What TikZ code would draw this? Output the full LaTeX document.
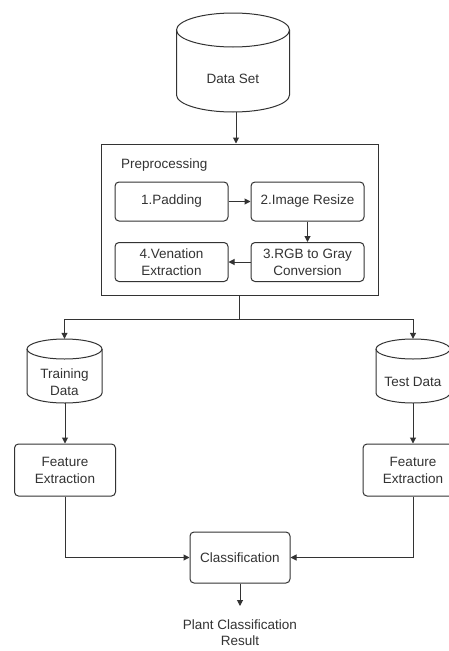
\documentclass[tikz,border=0pt]{standalone}
\usepackage{fontspec}
\setmainfont{Liberation Sans}
\usetikzlibrary{arrows.meta}
\definecolor{ln}{HTML}{333333}
\tikzset{
  x=1pt, y=1pt,
  every node/.style={font=\fontsize{13.5}{17}\selectfont, text=ln, align=center, inner sep=0pt},
  stepbox/.style={draw=ln, line width=1pt, rounded corners=4pt},
  cylline/.style={draw=ln, line width=1pt},
  conn/.style={draw=ln, line width=1pt},
  arr/.style={conn, -{Triangle[length=6pt,width=6pt]}},
}
\begin{document}
\begin{tikzpicture}
\useasboundingbox (0,0) rectangle (449,-651);
\fill[white] (0,0) rectangle (449,-651);

% Data Set cylinder
\draw[cylline] (176.5,-30) -- (176.5,-95) arc[start angle=180,end angle=360,x radius=56.5pt,y radius=17pt] -- (289.5,-30);
\draw[cylline] (233,-30) ellipse[x radius=56.5pt,y radius=17pt];
\node[minimum width=113pt, minimum height=99pt] (dsc) at (233,-62.5) {};
\node (ds) at (233,-79) {Data Set};

% Preprocessing
\node[draw=ln, line width=1pt, minimum width=277pt, minimum height=151pt] (pre) at (239.5,-219.5) {};
\node[anchor=west] (prel) at (121,-165) {Preprocessing};
\node[stepbox, minimum width=113pt, minimum height=39pt] (p1) at (171.5,-201.5) {1.Padding};
\node[stepbox, minimum width=113pt, minimum height=39pt] (p2) at (307.5,-201.5) {2.Image Resize};
\node[stepbox, minimum width=113pt, minimum height=39pt] (p3) at (307.5,-262) {3.RGB to Gray\\Conversion};
\node[stepbox, minimum width=113pt, minimum height=39pt] (p4) at (171.5,-262) {4.Venation\\Extraction};
\draw[arr] (p1) -- (p2);
\draw[arr] (p2) -- (p3);
\draw[arr] (p3) -- (p4);
\draw[arr] (dsc.south -| 236,0) -- (pre.north -| 236,0);

% Training Data cylinder
\draw[cylline] (27,-349) -- (27,-393) arc[start angle=180,end angle=360,x radius=37.5pt,y radius=10pt] -- (102,-349);
\draw[cylline] (64.5,-349) ellipse[x radius=37.5pt,y radius=10pt];
\node[minimum width=75pt, minimum height=64pt] (trc) at (64.5,-371) {};
\node (tr) at (64.5,-382) {Training\\Data};

% Test Data cylinder
\draw[cylline] (376,-349) -- (376,-393) arc[start angle=180,end angle=360,x radius=37pt,y radius=10pt] -- (450,-349);
\draw[cylline] (413,-349) ellipse[x radius=37pt,y radius=10pt];
\node[minimum width=74pt, minimum height=64pt] (tec) at (413,-371) {};
\node (te) at (413,-382) {Test Data};

% split
\coordinate (split) at (239.5,-319);
\draw[conn] (pre.south) -- (split);
\draw[arr] (split) -| (trc.north);
\draw[arr] (split) -| (tec.north);

% Feature extraction
\node[stepbox, minimum width=101pt, minimum height=52pt] (f1) at (65,-470) {Feature\\Extraction};
\node[stepbox, minimum width=100pt, minimum height=52pt] (f2) at (413,-470) {Feature\\Extraction};
\draw[arr] (trc.south -| f1) -- (f1.north);
\draw[arr] (tec.south) -- (f2.north);

% Classification
\node[stepbox, minimum width=100pt, minimum height=51pt] (cl) at (240,-557.5) {Classification};
\draw[arr] (f1.south) |- (cl.west);
\draw[arr] (f2.south) |- (cl.east);

\node[font=\fontsize{13.5}{16}\selectfont] (res) at (240,-633) {Plant Classification\\Result};
\draw[arr] (cl.south) -- (240,-606);
\end{tikzpicture}
\end{document}
